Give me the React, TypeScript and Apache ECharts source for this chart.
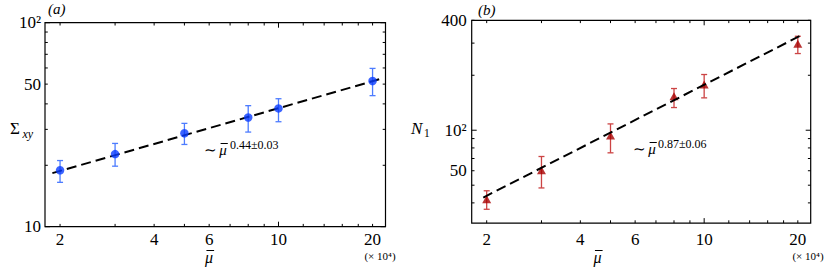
import React, { useEffect, useRef } from "react";
import * as echarts from "echarts";

// ---------- data ----------
const muA = [2, 3, 5, 8, 10, 20];
const sigmaXY = [18.9, 22.7, 28.7, 34.3, 38.0, 51.8];
const sigmaLo = [16.5, 19.8, 25.3, 29.1, 32.7, 43.9];
const sigmaHi = [21.1, 25.6, 32.1, 39.2, 42.4, 59.7];
const fitAX = [1.89, 21.2];
const fitAY = [18.3, 53.0];

const muB = [2, 3, 5, 8, 10, 20];
const n1 = [41.9, 60.4, 93.5, 153.5, 177.8, 298];
const n1Lo = [36.9, 48.3, 75.2, 133.1, 150.4, 263];
const n1Hi = [46.6, 71.8, 108.3, 169.2, 201.9, 327];
const fitBX = [1.95, 20.5];
const fitBY = [42.8, 331];

const xTickVals = [2, 3, 4, 5, 6, 7, 8, 9, 10, 12, 14, 16, 18, 20];
const xTickLabels = ["2", "", "4", "", "6", "", "", "", "10", "", "", "", "", "20"];
const xMajor = [10];

const yTicksA = [10, 20, 30, 40, 50, 60, 70, 80, 90, 100];
const yLabelsA = ["10", "", "", "", "50", "", "", "", "", "10²"];
const yMajorA = [10, 100];

const yTicksB = [40, 50, 60, 70, 80, 90, 100, 200, 300, 400];
const yLabelsB = ["", "", "50", "", "", "", "10²", "", "", "400"];
const yMajorB = [100];

const X_MIN = 1.79;
const X_MAX = 22;
const YA_MIN = 10;
const YA_MAX = 100;
const YB_MIN = 31;
const YB_MAX = 400;

const FONT = "Liberation Serif";

function font(size: number, italic?: boolean) {
  return (italic ? "italic " : "") + size + "px " + FONT;
}

function xTickSeries(gridIdx: number, yMin: number, labelOff: number) {
  return {
    type: "custom",
    xAxisIndex: gridIdx,
    yAxisIndex: gridIdx,
    silent: true,
    z: 5,
    data: xTickVals.map((v, i) => [v, yMin, i]),
    renderItem: (params: any, api: any) => {
      const v = api.value(0);
      const idx = api.value(2);
      const p = api.coord([v, api.value(1)]);
      const cs = params.coordSys;
      const len = xMajor.includes(v) ? 5 : 2.8;
      const st = { stroke: "#000", lineWidth: 1 };
      const bottom = cs.y + cs.height;
      const children: any[] = [
        { type: "line", shape: { x1: p[0], y1: bottom, x2: p[0], y2: bottom - len }, style: st },
        { type: "line", shape: { x1: p[0], y1: cs.y, x2: p[0], y2: cs.y + len }, style: st },
      ];
      const lab = xTickLabels[idx];
      if (lab) {
        children.push({
          type: "text",
          x: p[0],
          y: bottom + labelOff,
          style: { text: lab, font: font(17), fill: "#000", align: "center", verticalAlign: "middle" },
        });
      }
      return { type: "group", children };
    },
  };
}

function yTickSeries(gridIdx: number, vals: number[], labels: string[], majors: number[], labelOff: number) {
  return {
    type: "custom",
    xAxisIndex: gridIdx,
    yAxisIndex: gridIdx,
    silent: true,
    z: 5,
    data: vals.map((v, i) => [X_MIN, v, i]),
    renderItem: (params: any, api: any) => {
      const v = api.value(1);
      const idx = api.value(2);
      const p = api.coord([api.value(0), v]);
      const cs = params.coordSys;
      const len = majors.includes(v) ? 5 : 2.8;
      const st = { stroke: "#000", lineWidth: 1 };
      const right = cs.x + cs.width;
      const children: any[] = [
        { type: "line", shape: { x1: cs.x, y1: p[1], x2: cs.x + len, y2: p[1] }, style: st },
        { type: "line", shape: { x1: right, y1: p[1], x2: right - len, y2: p[1] }, style: st },
      ];
      const lab = labels[idx];
      if (lab) {
        children.push({
          type: "text",
          x: cs.x - labelOff,
          y: p[1],
          style: { text: lab, font: font(17), fill: "#000", align: "right", verticalAlign: "middle" },
        });
      }
      return { type: "group", children };
    },
  };
}

function errSeries(gridIdx: number, xs: number[], lo: number[], hi: number[], color: string) {
  return {
    type: "custom",
    xAxisIndex: gridIdx,
    yAxisIndex: gridIdx,
    silent: true,
    z: 2,
    encode: { x: 0, y: [1, 2] },
    data: xs.map((x, i) => [x, lo[i], hi[i]]),
    renderItem: (params: any, api: any) => {
      const x = api.value(0);
      const pLo = api.coord([x, api.value(1)]);
      const pHi = api.coord([x, api.value(2)]);
      const w = 3;
      const st = { stroke: color, lineWidth: 1.3 };
      return {
        type: "group",
        children: [
          { type: "line", shape: { x1: pLo[0], y1: pLo[1], x2: pHi[0], y2: pHi[1] }, style: st },
          { type: "line", shape: { x1: pLo[0] - w, y1: pLo[1], x2: pLo[0] + w, y2: pLo[1] }, style: st },
          { type: "line", shape: { x1: pHi[0] - w, y1: pHi[1], x2: pHi[0] + w, y2: pHi[1] }, style: st },
        ],
      };
    },
  };
}

function txt(x: number, y: number, text: string, size: number, opts: any = {}) {
  return {
    type: "text",
    x,
    y,
    silent: true,
    style: {
      text,
      font: font(size, opts.italic),
      fill: "#000",
      align: opts.align || "left",
      verticalAlign: "middle",
    },
  };
}

// italic mu with an overbar (the bar is part of the glyph, drawn as a stroke)
function muBar(x: number, y: number, size: number) {
  const by = Math.round(y - size * 0.45) + 0.5;
  return {
    type: "group",
    silent: true,
    children: [
      txt(x, y, "μ", size, { italic: true, align: "center" }),
      {
        type: "line",
        silent: true,
        shape: { x1: x - size * 0.16, y1: by, x2: x + size * 0.32, y2: by },
        style: { stroke: "#000", lineWidth: 1 },
      },
    ],
  };
}

const hiddenAxis = {
  axisLine: { show: false },
  axisTick: { show: false },
  axisLabel: { show: false },
  splitLine: { show: false },
};

export default function App() {
  const ref = useRef<HTMLDivElement>(null);
  useEffect(() => {
    document.body.style.margin = "0";
    const chart = echarts.init(ref.current!, undefined, { renderer: "svg" });
    const option: any = {
      animation: false,
      backgroundColor: "#fff",
      grid: [
        { left: 45, top: 22.7, width: 340.5, height: 204, show: true, borderColor: "#000", borderWidth: 1.2, backgroundColor: "transparent" },
        { left: 471.7, top: 20.3, width: 339, height: 202.8, show: true, borderColor: "#000", borderWidth: 1.2, backgroundColor: "transparent" },
      ],
      xAxis: [
        { type: "log", gridIndex: 0, min: X_MIN, max: X_MAX, ...hiddenAxis },
        { type: "log", gridIndex: 1, min: X_MIN, max: X_MAX, ...hiddenAxis },
      ],
      yAxis: [
        { type: "log", gridIndex: 0, min: YA_MIN, max: YA_MAX, ...hiddenAxis },
        { type: "log", gridIndex: 1, min: YB_MIN, max: YB_MAX, ...hiddenAxis },
      ],
      graphic: [
        // panel labels
        txt(48, 9, "(a)", 15, { italic: true }),
        txt(478, 9.5, "(b)", 15, { italic: true }),
        // y-axis titles
        txt(10, 128, "Σ", 17),
        txt(22.5, 133.5, "xy", 12, { italic: true }),
        txt(411, 128, "N", 17, { italic: true }),
        txt(424, 132.5, "1", 11.5),
        // x-axis titles
        muBar(209, 257, 16),
        muBar(597.5, 257, 16),
        txt(380, 256, "(× 10⁴)", 11, { align: "center" }),
        txt(808, 256, "(× 10⁴)", 11, { align: "center" }),
        // annotations
        txt(204, 150, "∼", 15),
        muBar(223, 150, 15),
        txt(230, 144.5, "0.44±0.03", 12),
        txt(633, 149, "∼", 15),
        muBar(652, 149, 15),
        txt(658, 144, "0.87±0.06", 12),
      ],
      series: [
        xTickSeries(0, YA_MIN, 12.5),
        xTickSeries(1, YB_MIN, 16.5),
        yTickSeries(0, yTicksA, yLabelsA, yMajorA, 4),
        yTickSeries(1, yTicksB, yLabelsB, yMajorB, 5),
        errSeries(0, muA, sigmaLo, sigmaHi, "#4d7cff"),
        {
          type: "line",
          xAxisIndex: 0,
          yAxisIndex: 0,
          data: fitAX.map((x, i) => [x, fitAY[i]]),
          symbol: "none",
          silent: true,
          z: 3,
          lineStyle: { color: "#000", width: 2, type: [10, 5] },
        },
        {
          type: "scatter",
          xAxisIndex: 0,
          yAxisIndex: 0,
          data: muA.map((x, i) => [x, sigmaXY[i]]),
          symbol: "circle",
          symbolSize: 8.5,
          itemStyle: { color: "#0a3cff" },
          z: 4,
        },
        errSeries(1, muB, n1Lo, n1Hi, "#cc4444"),
        {
          type: "scatter",
          xAxisIndex: 1,
          yAxisIndex: 1,
          data: muB.map((x, i) => [x, n1[i]]),
          symbol: "triangle",
          symbolSize: [9, 8],
          itemStyle: { color: "#a80000" },
          z: 3,
        },
        {
          type: "line",
          xAxisIndex: 1,
          yAxisIndex: 1,
          data: fitBX.map((x, i) => [x, fitBY[i]]),
          symbol: "none",
          silent: true,
          z: 4,
          lineStyle: { color: "#000", width: 2, type: [10, 5] },
        },
      ],
    };
    chart.setOption(option);
    return () => chart.dispose();
  }, []);
  return <div ref={ref} style={{ width: 831, height: 267 }} />;
}
